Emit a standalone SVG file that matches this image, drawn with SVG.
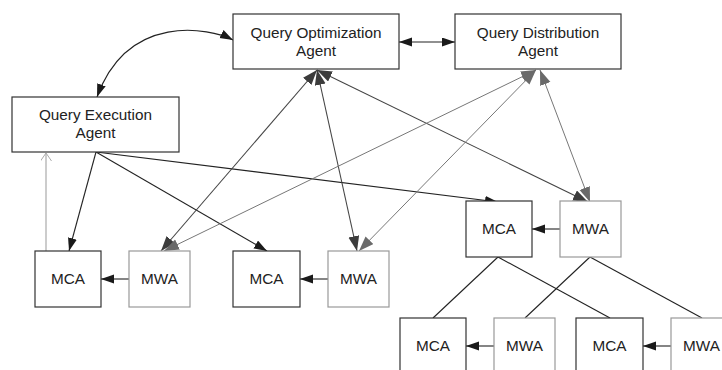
<svg xmlns="http://www.w3.org/2000/svg" width="722" height="370" viewBox="0 0 722 370">
  <style>
    .box { fill: #fff; stroke: #333; stroke-width: 1.2; }
    .mwa { fill: #fff; stroke: #999; stroke-width: 1.2; }
    text { font-family: "Liberation Sans", Arial, sans-serif; font-size: 15.3px; fill: #222; text-anchor: middle; }
    .blk { stroke: #222; stroke-width: 1.1; fill: none; }
    .dark { stroke: #444; stroke-width: 1.1; fill: none; }
    .gray { stroke: #777; stroke-width: 1; fill: none; }
    .light { stroke: #aaa; stroke-width: 1.2; fill: none; }
  </style>
  <defs>
    <marker id="ahBlack" markerUnits="userSpaceOnUse" markerWidth="14" markerHeight="10" refX="13" refY="4.5" orient="auto-start-reverse">
      <path d="M0,0 L13,4.5 L0,9 z" fill="#1a1a1a"/>
    </marker>
    <marker id="ahDark" markerUnits="userSpaceOnUse" markerWidth="16" markerHeight="12" refX="15" refY="5.5" orient="auto-start-reverse">
      <path d="M0,0 L15,5.5 L0,11 z" fill="#3c3c3c"/>
    </marker>
    <marker id="ahGray" markerUnits="userSpaceOnUse" markerWidth="16" markerHeight="12" refX="15" refY="5.5" orient="auto-start-reverse">
      <path d="M0,0 L15,5.5 L0,11 z" fill="#6a6a6a"/>
    </marker>
    <marker id="ahOpen" markerUnits="userSpaceOnUse" markerWidth="10" markerHeight="12" refX="8" refY="5.5" orient="auto">
      <path d="M0,0 L8,5.5 L0,11" fill="none" stroke="#aaa" stroke-width="1"/>
    </marker>
  </defs>

  <g id="connectors">
    <!-- optimization <-> execution -->
    <path class="blk" d="M233,40 C210,28 128,12 97,97" marker-start="url(#ahBlack)" marker-end="url(#ahBlack)"/>
    <!-- optimization <-> distribution -->
    <line class="blk" x1="399" y1="42" x2="455" y2="42" marker-start="url(#ahBlack)" marker-end="url(#ahBlack)"/>
    <!-- execution agent to MCAs -->
    <line class="blk" x1="96" y1="152" x2="69" y2="251" marker-end="url(#ahBlack)"/>
    <line class="blk" x1="96" y1="152" x2="267" y2="251" marker-end="url(#ahBlack)"/>
    <line class="blk" x1="96" y1="152" x2="498" y2="202" marker-end="url(#ahBlack)"/>
    <!-- MCA report back to execution agent -->
    <line class="light" x1="46" y1="251" x2="46" y2="153" marker-end="url(#ahOpen)"/>
    <!-- optimization agent <-> MWAs -->
    <line class="dark" x1="317" y1="70" x2="161" y2="251" marker-start="url(#ahDark)" marker-end="url(#ahDark)"/>
    <line class="dark" x1="317" y1="70" x2="357" y2="251" marker-start="url(#ahDark)" marker-end="url(#ahDark)"/>
    <line class="dark" x1="317" y1="70" x2="588" y2="202" marker-start="url(#ahDark)" marker-end="url(#ahDark)"/>
    <!-- distribution agent <-> MWAs -->
    <line class="gray" x1="536" y1="70" x2="164" y2="251" marker-start="url(#ahGray)" marker-end="url(#ahGray)"/>
    <line class="gray" x1="536" y1="70" x2="359" y2="251" marker-start="url(#ahGray)" marker-end="url(#ahGray)"/>
    <line class="gray" x1="540" y1="70" x2="590" y2="202" marker-start="url(#ahGray)" marker-end="url(#ahGray)"/>
    <!-- MWA -> MCA -->
    <line class="blk" x1="129" y1="279" x2="101" y2="279" marker-end="url(#ahBlack)"/>
    <line class="blk" x1="328" y1="279" x2="300" y2="279" marker-end="url(#ahBlack)"/>
    <line class="blk" x1="560" y1="229" x2="532" y2="229" marker-end="url(#ahBlack)"/>
    <line class="blk" x1="494" y1="346" x2="466" y2="346" marker-end="url(#ahBlack)"/>
    <line class="blk" x1="671" y1="346" x2="643" y2="346" marker-end="url(#ahBlack)"/>
    <!-- hierarchy links -->
    <line class="blk" x1="498" y1="257" x2="433" y2="318"/>
    <line class="blk" x1="498" y1="257" x2="610" y2="318"/>
    <line class="blk" x1="590" y1="257" x2="525" y2="318"/>
    <line class="blk" x1="590" y1="257" x2="702" y2="318"/>
  </g>

  <g id="qoa">
    <rect class="box" x="233" y="14" width="166" height="55"/>
    <text x="316" y="38">Query Optimization</text>
    <text x="316" y="56">Agent</text>
  </g>
  <g id="qda">
    <rect class="box" x="455" y="14" width="166" height="55"/>
    <text x="538" y="38">Query Distribution</text>
    <text x="538" y="56">Agent</text>
  </g>
  <g id="qea">
    <rect class="box" x="12" y="97" width="167" height="55"/>
    <text x="95.5" y="120">Query Execution</text>
    <text x="95.5" y="138">Agent</text>
  </g>

  <g id="mca1"><rect class="box" x="35" y="251" width="66" height="56"/><text x="68" y="284">MCA</text></g>
  <g id="mwa1"><rect class="mwa" x="129" y="251" width="61" height="56"/><text x="159.5" y="284">MWA</text></g>
  <g id="mca2"><rect class="box" x="233" y="251" width="67" height="56"/><text x="266.5" y="284">MCA</text></g>
  <g id="mwa2"><rect class="mwa" x="328" y="251" width="61" height="56"/><text x="358.5" y="284">MWA</text></g>
  <g id="mca3"><rect class="box" x="466" y="201" width="66" height="56"/><text x="499" y="234">MCA</text></g>
  <g id="mwa3"><rect class="mwa" x="560" y="201" width="61" height="56"/><text x="590.5" y="234">MWA</text></g>
  <g id="mca4"><rect class="box" x="400" y="318" width="66" height="56"/><text x="433" y="351">MCA</text></g>
  <g id="mwa4"><rect class="mwa" x="494" y="318" width="61" height="56"/><text x="524.5" y="351">MWA</text></g>
  <g id="mca5"><rect class="box" x="576" y="318" width="67" height="56"/><text x="609.5" y="351">MCA</text></g>
  <g id="mwa5"><rect class="mwa" x="671" y="318" width="61" height="56"/><text x="701.5" y="351">MWA</text></g>
</svg>
